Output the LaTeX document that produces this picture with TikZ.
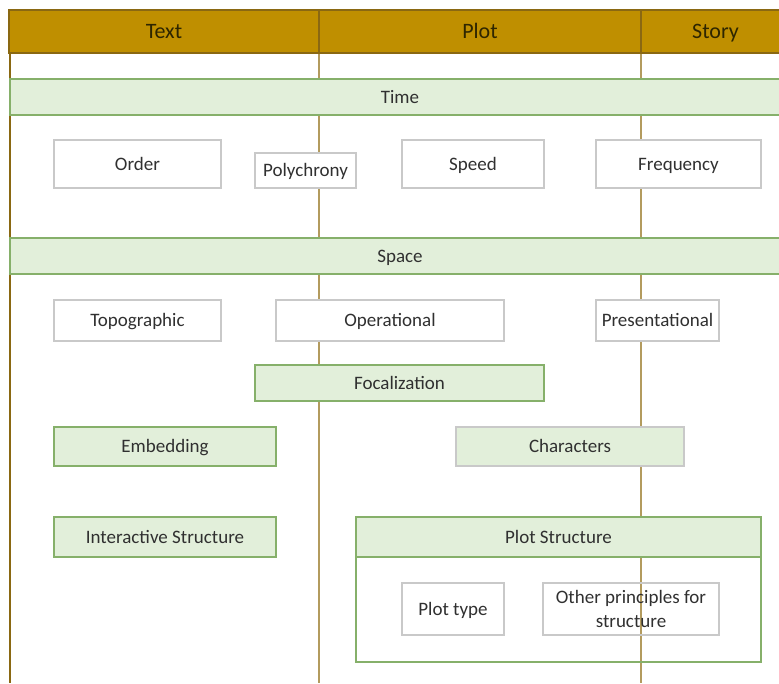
\documentclass[tikz,border=0pt]{standalone}
\usepackage{fontspec}
\setmainfont{Carlito}
\definecolor{headgold}{HTML}{BF8F00}
\definecolor{headline}{HTML}{8A6812}
\definecolor{headtext}{HTML}{2E2600}
\definecolor{colline}{HTML}{B39B5E}
\definecolor{lightgreen}{HTML}{E2EFDA}
\definecolor{leafgreen}{HTML}{86B06A}
\definecolor{lightgrey}{HTML}{C9C9C9}
\definecolor{textgrey}{HTML}{303030}

\begin{document}
\begin{tikzpicture}[x=1pt,y=-1pt,
    every node/.style={inner sep=0pt,text=textgrey,text height=14pt,text depth=1.8pt,
      font=\fontsize{19}{24}\selectfont},
    size/.style 2 args={minimum width=#1,minimum height=#2},
    whitebox/.style={draw=lightgrey,line width=1.3pt,fill=white},
    greenbox/.style={draw=leafgreen,line width=1.3pt,fill=lightgreen},
    headcell/.style={draw=headline,line width=1.5pt,fill=headgold,text=headtext,
      minimum height=43pt,text height=16pt,text depth=1.8pt,font=\fontsize{22}{26}\selectfont}]
      \useasboundingbox (0,0) rectangle (779,683);
      % column lines
      \draw[colline,line width=1.5pt]
        (319,53) -- (319,683)
        (641,53) -- (641,683);
      \draw[headline,line width=2.5pt] (10,10) -- (10,683);
      % header
      \draw
        (164,31.5) node[headcell,minimum width=310pt] (text) {Text}
        (480,31.5) node[headcell,minimum width=322pt] (plot) {Plot}
        (715.5,31.5) node[headcell,minimum width=149pt] (story) {Story};
      % time
      \draw
        (400,97) node[greenbox,size={780pt}{36pt}] (time) {Time}
        (137.5,164) node[whitebox,size={167pt}{48pt}] (order) {Order}
        (305.5,170.5) node[whitebox,size={101pt}{35pt}] (polychrony) {Polychrony}
        (473,164) node[whitebox,size={142pt}{48pt}] (speed) {Speed}
        (678.5,164) node[whitebox,size={165pt}{48pt}] (frequency) {Frequency};
      % space
      \draw
        (400,256) node[greenbox,size={780pt}{36pt}] (space) {Space}
        (137.5,320.5) node[whitebox,size={167pt}{41pt}] (topographic) {Topographic}
        (390,320.5) node[whitebox,size={228pt}{41pt}] (operational) {Operational}
        (657.5,320.5) node[whitebox,size={123pt}{41pt}] (presentational) {Presentational};
      % other categories
      \draw
        (399.5,383) node[greenbox,size={289pt}{36pt}] (focalization) {Focalization}
        (165,446.5) node[greenbox,size={222pt}{39pt}] (embedding) {Embedding}
        (570,446.5) node[greenbox,draw=lightgrey,size={228pt}{39pt}] (characters) {Characters}
        (165,537) node[greenbox,size={222pt}{40pt}] (interactive) {Interactive Structure};
      % plot structure
      \draw
        (558.5,589.5) node[draw=leafgreen,line width=1.3pt,size={405pt}{145pt}] (plotframe) {}
        (558.5,537) node[greenbox,size={405pt}{40pt}] (plotstructure) {Plot Structure}
        (453,609) node[whitebox,size={102pt}{52pt}] (plottype) {Plot type}
        (631,609) node[draw=lightgrey,line width=1.3pt,size={176pt}{52pt},align=center,
          text height=,text depth=] (principles) {Other principles for\\structure};
    \end{tikzpicture}
\end{document}
